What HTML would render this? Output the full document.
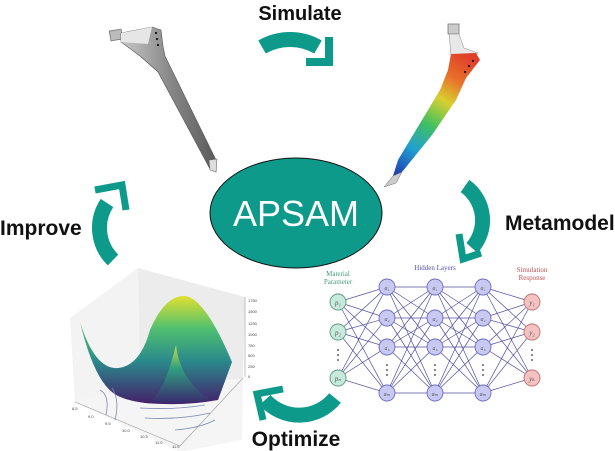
<!DOCTYPE html>
<html><head><meta charset="utf-8"><style>
html,body{margin:0;padding:0;background:#fff;}
svg{display:block;}
</style></head><body>
<svg width="615" height="451" viewBox="0 0 615 451" xmlns="http://www.w3.org/2000/svg" font-family="Liberation Sans, DejaVu Sans, sans-serif">
<defs>
<linearGradient id="fea" x1="465" y1="55" x2="393" y2="178" gradientUnits="userSpaceOnUse">
<stop offset="0" stop-color="#e0402a"/><stop offset="0.18" stop-color="#e8702a"/><stop offset="0.35" stop-color="#d8d030"/><stop offset="0.55" stop-color="#40c060"/><stop offset="0.75" stop-color="#20a0d0"/><stop offset="1" stop-color="#2030b0"/>
</linearGradient>
<linearGradient id="steel" x1="0" y1="0" x2="1" y2="0">
<stop offset="0" stop-color="#c8c8c8"/><stop offset="0.5" stop-color="#8a8a8a"/><stop offset="1" stop-color="#5a5a5a"/>
</linearGradient>
<linearGradient id="surf" x1="0" y1="0" x2="0" y2="1">
<stop offset="0" stop-color="#e0e030"/><stop offset="0.3" stop-color="#50c070"/><stop offset="0.6" stop-color="#2a8a8c"/><stop offset="1" stop-color="#44206a"/>
</linearGradient>
<linearGradient id="surf2" x1="0" y1="0" x2="0" y2="1">
<stop offset="0" stop-color="#d0e040"/><stop offset="0.4" stop-color="#30a080"/><stop offset="1" stop-color="#3a2a70"/>
</linearGradient>
</defs>

<!-- Labels -->
<g font-family="Liberation Sans, DejaVu Sans, sans-serif" font-weight="bold" fill="#111">
<text x="300" y="20" font-size="20" text-anchor="middle">Simulate</text>
<text x="505" y="230" font-size="21">Metamodel</text>
<text x="0" y="235" font-size="21">Improve</text>
<text x="296" y="446" font-size="21" text-anchor="middle">Optimize</text>
</g>

<!-- cycle arrows -->
<g fill="none" stroke="#0e9a8a">
<path d="M262 47 A56 56 0 0 1 318 47" stroke-width="15"/>
<polyline points="306,62 329,62 329,37" stroke-width="8"/>
<path d="M465 186 A42 42 0 0 1 472 248" stroke-width="15"/>
<polyline points="459,234 463,259 481,253" stroke-width="7"/>
<path d="M107 203 A45 45 0 0 0 113 260" stroke-width="15"/>
<polyline points="95,190 122,185 126,210" stroke-width="7"/>
<path d="M265 400 A46 46 0 0 0 335 398" stroke-width="15"/>
<polyline points="263,420 257,394 283,389" stroke-width="7"/>
</g>

<!-- left implant -->
<rect x="110" y="30" width="12" height="10" fill="#bbb" stroke="#777" stroke-width="0.8" transform="rotate(-10 116 35)"/>
<polygon points="121,33 152,27 161,30 163,46 165,56 216,160 216,172 210,169 158,72 140,56 121,42" fill="url(#steel)" stroke="#555" stroke-width="0.6"/>
<polygon points="121,33 152,27 148,44 121,42" fill="#e6e6e6"/>
<polygon points="209,160 217,159 216,172 210,170" fill="#ddd" stroke="#555" stroke-width="0.5"/>
<circle cx="156" cy="33" r="1.1" fill="#111"/><circle cx="157" cy="39" r="1.1" fill="#111"/><circle cx="158" cy="45" r="1.1" fill="#111"/>

<!-- right implant -->
<rect x="448" y="24" width="11" height="10" fill="#ccc" stroke="#777" stroke-width="0.8"/>
<polygon points="449,34 459,34 464,48 478,53 451,55" fill="#e8e8e8" stroke="#888" stroke-width="0.5"/>
<polygon points="451,54 476,53 480,60 466,78 456,100 432,135 402,172 393,176 398,160 422,120 440,90 448,70" fill="url(#fea)"/>
<polygon points="393,176 402,172 396,183 384,187" fill="#ccc" stroke="#666" stroke-width="0.5"/>
<circle cx="473" cy="61" r="1.1" fill="#111"/><circle cx="469" cy="66" r="1.1" fill="#111"/><circle cx="465" cy="72" r="1.1" fill="#111"/>

<!-- center ellipse -->
<ellipse cx="296" cy="213" rx="86" ry="55" fill="#0e9a8a" stroke="#111" stroke-width="1"/>
<text x="296" y="226" font-size="36" fill="#fff" text-anchor="middle">APSAM</text>

<!-- 3D surface plot -->
<g>
<polygon points="70,318 138,268 140,385 75,402" fill="#f3f3f3"/>
<polygon points="138,268 245,297 243,379 140,385" fill="#ececec"/>
<polygon points="75,402 140,385 243,379 242,440 180,452 75,402" fill="#f5f5f5"/>
<line x1="75" y1="402" x2="180" y2="446" stroke="#999" stroke-width="0.6"/>
<line x1="180" y1="446" x2="243" y2="378" stroke="#999" stroke-width="0.6"/>
<line x1="245" y1="297" x2="245" y2="377" stroke="#999" stroke-width="0.6"/>
<path d="M80 322 Q95 370 118 368 Q140 366 150 330 Q165 295 185 296 Q205 298 232 362 L218 400 Q190 405 165 404 Q135 404 118 396 Q95 385 80 322 Z" fill="url(#surf)"/>
<path d="M150 402 Q165 390 176 345 Q180 380 210 400 Q180 405 150 402 Z" fill="url(#surf2)"/>
<g fill="none" stroke="#7a8ab0" stroke-width="0.8">
<path d="M100 390 Q110 395 106 415"/><path d="M112 388 Q120 400 115 420"/>
<path d="M140 408 Q175 410 205 405"/><path d="M145 418 Q180 420 210 413"/>
<path d="M175 430 Q200 428 215 420"/>
</g>
<g font-size="4" fill="#444">
<text x="248" y="302">1750</text><text x="248" y="313">1500</text><text x="248" y="325">1250</text><text x="248" y="336">1000</text><text x="248" y="347">750</text><text x="248" y="357">500</text><text x="248" y="368">250</text><text x="248" y="378">0</text>
<text x="72" y="410">8.5</text><text x="88" y="418">9.0</text><text x="105" y="425">9.5</text><text x="122" y="432">10.0</text><text x="140" y="438">10.5</text><text x="155" y="444">11.0</text><text x="172" y="448">11.5</text>
</g>
</g>

<!-- neural network -->
<g font-family="Liberation Serif, DejaVu Serif, serif" text-anchor="middle" font-size="7">
<text x="338" y="276" fill="#4a9a80">Material</text><text x="338" y="284" fill="#4a9a80">Parameter</text>
<text x="435" y="270" fill="#5050b0">Hidden Layers</text>
<text x="532" y="272" fill="#c05050">Simulation</text><text x="532" y="280" fill="#c05050">Response</text>
</g>
<g stroke="#5050a0" stroke-width="0.7">
<path d="M338 302L387 287M338 302L387 318M338 302L387 347M338 302L387 393M338 332L387 287M338 332L387 318M338 332L387 347M338 332L387 393M338 378L387 287M338 378L387 318M338 378L387 347M338 378L387 393"/>
<path d="M387 287L435 287M387 287L435 318M387 287L435 347M387 287L435 393M387 318L435 287M387 318L435 318M387 318L435 347M387 318L435 393M387 347L435 287M387 347L435 318M387 347L435 347M387 347L435 393M387 393L435 287M387 393L435 318M387 393L435 347M387 393L435 393"/>
<path d="M435 287L483 287M435 287L483 318M435 287L483 347M435 287L483 393M435 318L483 287M435 318L483 318M435 318L483 347M435 318L483 393M435 347L483 287M435 347L483 318M435 347L483 347M435 347L483 393M435 393L483 287M435 393L483 318M435 393L483 347M435 393L483 393"/>
<path d="M483 287L532 302M483 287L532 332M483 287L532 378M483 318L532 302M483 318L532 332M483 318L532 378M483 347L532 302M483 347L532 332M483 347L532 378M483 393L532 302M483 393L532 332M483 393L532 378"/>
</g>
<g stroke-width="0.9" font-family="Liberation Serif, DejaVu Serif, serif" font-style="italic" font-size="7" text-anchor="middle">
<g fill="#c8eadc" stroke="#5a9a80"><circle cx="338" cy="302" r="8"/><circle cx="338" cy="332" r="8"/><circle cx="338" cy="378" r="8"/></g>
<g fill="#c8c8f2" stroke="#6a6ac0">
<circle cx="387" cy="287" r="8"/><circle cx="387" cy="318" r="8"/><circle cx="387" cy="347" r="8"/><circle cx="387" cy="393" r="8"/>
<circle cx="435" cy="287" r="8"/><circle cx="435" cy="318" r="8"/><circle cx="435" cy="347" r="8"/><circle cx="435" cy="393" r="8"/>
<circle cx="483" cy="287" r="8"/><circle cx="483" cy="318" r="8"/><circle cx="483" cy="347" r="8"/><circle cx="483" cy="393" r="8"/>
</g>
<g fill="#f5c2c2" stroke="#c07070"><circle cx="532" cy="302" r="8"/><circle cx="532" cy="332" r="8"/><circle cx="532" cy="378" r="8"/></g>
<g fill="#555" stroke="none">
<text x="338" y="305">p₁</text><text x="338" y="335">p₂</text><text x="338" y="381">pₙ</text>
<text x="532" y="305">y₁</text><text x="532" y="335">y₂</text><text x="532" y="381">yₖ</text>
<text x="387" y="290" font-size="6">a₁</text><text x="387" y="321" font-size="6">a₂</text><text x="387" y="350" font-size="6">a₃</text><text x="387" y="396" font-size="6">aₘ</text>
<text x="435" y="290" font-size="6">a₁</text><text x="435" y="321" font-size="6">a₂</text><text x="435" y="350" font-size="6">a₃</text><text x="435" y="396" font-size="6">aₘ</text>
<text x="483" y="290" font-size="6">a₁</text><text x="483" y="321" font-size="6">a₂</text><text x="483" y="350" font-size="6">a₃</text><text x="483" y="396" font-size="6">aₘ</text>
</g>
<g fill="#333" stroke="none">
<circle cx="338" cy="350" r="0.9"/><circle cx="338" cy="355" r="0.9"/><circle cx="338" cy="360" r="0.9"/>
<circle cx="532" cy="350" r="0.9"/><circle cx="532" cy="355" r="0.9"/><circle cx="532" cy="360" r="0.9"/>
<circle cx="387" cy="365" r="0.9"/><circle cx="387" cy="370" r="0.9"/><circle cx="387" cy="375" r="0.9"/>
<circle cx="435" cy="365" r="0.9"/><circle cx="435" cy="370" r="0.9"/><circle cx="435" cy="375" r="0.9"/>
<circle cx="483" cy="365" r="0.9"/><circle cx="483" cy="370" r="0.9"/><circle cx="483" cy="375" r="0.9"/>
</g>
</g>
</svg>
</body></html>
